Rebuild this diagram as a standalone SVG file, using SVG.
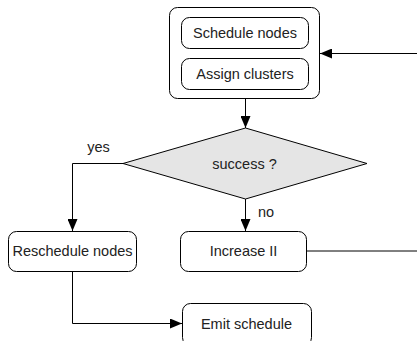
<svg xmlns="http://www.w3.org/2000/svg" width="417" height="341" viewBox="0 0 417 341">
  <style>
    .box { fill: #ffffff; stroke: #000000; stroke-width: 1; }
    .decision { fill: #e5e5e5; stroke: #000000; stroke-width: 1; }
    .label { font-family: "Liberation Sans", Arial, sans-serif; font-size: 14.5px; fill: #222222; text-anchor: middle; dominant-baseline: central; }
    .edge { fill: none; stroke: #000000; stroke-width: 1; }
  </style>
  <defs>
    <marker id="arrow" viewBox="0 0 12 10" refX="12" refY="5" markerWidth="12" markerHeight="10" markerUnits="userSpaceOnUse" orient="auto">
      <path d="M0,0 L12,5 L0,10 Z" fill="#000000"/>
    </marker>
  </defs>

  <rect width="417" height="341" fill="#ffffff"/>

  <!-- connectors -->
  <g id="connectors">
    <path class="edge" d="M417,53.5 L320,53.5" marker-end="url(#arrow)"/>
    <path class="edge" d="M245.5,99 L245.5,128" marker-end="url(#arrow)"/>
    <path class="edge" d="M123,163.5 L72.5,163.5 L72.5,231" marker-end="url(#arrow)"/>
    <path class="edge" d="M245.5,199 L245.5,231" marker-end="url(#arrow)"/>
    <path class="edge" d="M307,251 L417,251"/>
    <path class="edge" d="M72.5,271 L72.5,323.5 L182,323.5" marker-end="url(#arrow)"/>
    <text class="label" x="98.5" y="147">yes</text>
    <text class="label" x="266" y="212">no</text>
  </g>

  <!-- scheduling block with inner steps -->
  <g id="schedule-block">
    <rect class="box" x="169.5" y="7.5" width="150" height="91" rx="8" ry="8"/>
    <g id="schedule-nodes">
      <rect class="box" x="181.5" y="17.5" width="127" height="31" rx="8" ry="8"/>
      <text class="label" x="245" y="33">Schedule nodes</text>
    </g>
    <g id="assign-clusters">
      <rect class="box" x="181.5" y="58.5" width="127" height="31" rx="8" ry="8"/>
      <text class="label" x="245" y="74">Assign clusters</text>
    </g>
  </g>

  <g id="success">
    <polygon class="decision" points="245.5,128 367,163.5 245.5,199 123,163.5"/>
    <text class="label" x="244.5" y="163.5">success ?</text>
  </g>

  <g id="reschedule-nodes">
    <rect class="box" x="8.5" y="231.5" width="128" height="40" rx="8" ry="8"/>
    <text class="label" x="72.5" y="251">Reschedule nodes</text>
  </g>

  <g id="increase-ii">
    <rect class="box" x="180.5" y="231.5" width="126" height="40" rx="8" ry="8"/>
    <text class="label" x="243.5" y="251">Increase II</text>
  </g>

  <g id="emit-schedule">
    <rect class="box" x="182.5" y="303.5" width="129" height="42" rx="8" ry="8"/>
    <text class="label" x="246.5" y="323.5">Emit schedule</text>
  </g>
</svg>
